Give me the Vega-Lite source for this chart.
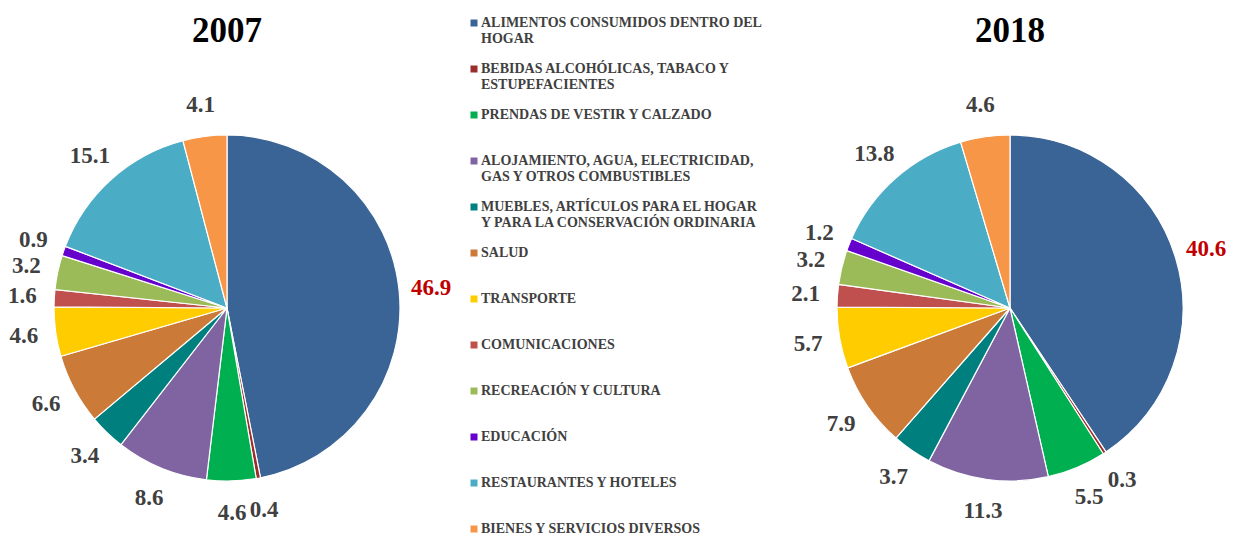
{
  "$schema": "https://vega.github.io/schema/vega-lite/v6.json",
  "padding": {"left": 2, "top": 14, "right": 0, "bottom": 0},
  "background": "white",
  "config": {"view": {"stroke": null}, "font": "Liberation Serif"},
  "data": {"values": [
    {"year": "2007", "cat": "ALIMENTOS CONSUMIDOS DENTRO DEL HOGAR", "value": 46.9, "orden": 1},
    {"year": "2007", "cat": "BEBIDAS ALCOHÓLICAS, TABACO Y ESTUPEFACIENTES", "value": 0.4, "orden": 2},
    {"year": "2007", "cat": "PRENDAS DE VESTIR Y CALZADO", "value": 4.6, "orden": 3},
    {"year": "2007", "cat": "ALOJAMIENTO, AGUA, ELECTRICIDAD, GAS Y OTROS COMBUSTIBLES", "value": 8.6, "orden": 4},
    {"year": "2007", "cat": "MUEBLES, ARTÍCULOS PARA EL HOGAR Y PARA LA CONSERVACIÓN ORDINARIA", "value": 3.4, "orden": 5},
    {"year": "2007", "cat": "SALUD", "value": 6.6, "orden": 6},
    {"year": "2007", "cat": "TRANSPORTE", "value": 4.6, "orden": 7},
    {"year": "2007", "cat": "COMUNICACIONES", "value": 1.6, "orden": 8},
    {"year": "2007", "cat": "RECREACIÓN Y CULTURA", "value": 3.2, "orden": 9},
    {"year": "2007", "cat": "EDUCACIÓN", "value": 0.9, "orden": 10},
    {"year": "2007", "cat": "RESTAURANTES Y HOTELES", "value": 15.1, "orden": 11},
    {"year": "2007", "cat": "BIENES Y SERVICIOS DIVERSOS", "value": 4.1, "orden": 12},
    {"year": "2018", "cat": "ALIMENTOS CONSUMIDOS DENTRO DEL HOGAR", "value": 40.6, "orden": 1},
    {"year": "2018", "cat": "BEBIDAS ALCOHÓLICAS, TABACO Y ESTUPEFACIENTES", "value": 0.3, "orden": 2},
    {"year": "2018", "cat": "PRENDAS DE VESTIR Y CALZADO", "value": 5.5, "orden": 3},
    {"year": "2018", "cat": "ALOJAMIENTO, AGUA, ELECTRICIDAD, GAS Y OTROS COMBUSTIBLES", "value": 11.3, "orden": 4},
    {"year": "2018", "cat": "MUEBLES, ARTÍCULOS PARA EL HOGAR Y PARA LA CONSERVACIÓN ORDINARIA", "value": 3.7, "orden": 5},
    {"year": "2018", "cat": "SALUD", "value": 7.9, "orden": 6},
    {"year": "2018", "cat": "TRANSPORTE", "value": 5.7, "orden": 7},
    {"year": "2018", "cat": "COMUNICACIONES", "value": 2.1, "orden": 8},
    {"year": "2018", "cat": "RECREACIÓN Y CULTURA", "value": 3.2, "orden": 9},
    {"year": "2018", "cat": "EDUCACIÓN", "value": 1.2, "orden": 10},
    {"year": "2018", "cat": "RESTAURANTES Y HOTELES", "value": 13.8, "orden": 11},
    {"year": "2018", "cat": "BIENES Y SERVICIOS DIVERSOS", "value": 4.6, "orden": 12}
  ]},
  "facet": {
    "column": {
      "field": "year", "type": "nominal", "title": null,
      "header": {"labelFont": "Liberation Serif", "labelFontSize": 35, "labelFontWeight": "bold", "labelColor": "black", "labelPadding": 34}
    }
  },
  "spacing": 333,
  "spec": {
    "width": 450,
    "height": 450,
    "encoding": {
      "theta": {"field": "value", "type": "quantitative", "stack": "normalize"},
      "order": {"field": "orden", "type": "quantitative", "sort": "ascending"}
    },
    "layer": [
      {
        "mark": {"type": "arc", "outerRadius": 173, "stroke": "white", "strokeWidth": 1.2},
        "encoding": {
          "color": {
            "field": "cat", "type": "nominal",
            "scale": {
              "domain": [
                "ALIMENTOS CONSUMIDOS DENTRO DEL HOGAR",
                "BEBIDAS ALCOHÓLICAS, TABACO Y ESTUPEFACIENTES",
                "PRENDAS DE VESTIR Y CALZADO",
                "ALOJAMIENTO, AGUA, ELECTRICIDAD, GAS Y OTROS COMBUSTIBLES",
                "MUEBLES, ARTÍCULOS PARA EL HOGAR Y PARA LA CONSERVACIÓN ORDINARIA",
                "SALUD",
                "TRANSPORTE",
                "COMUNICACIONES",
                "RECREACIÓN Y CULTURA",
                "EDUCACIÓN",
                "RESTAURANTES Y HOTELES",
                "BIENES Y SERVICIOS DIVERSOS"
              ],
              "range": ["#3A6496", "#9B2D2A", "#00B050", "#8064A2", "#007F7F", "#CC7A38", "#FFCC00", "#C0504D", "#9BBB59", "#6600CC", "#4BACC6", "#F79646"]
            },
            "legend": {
              "title": null,
              "orient": "none",
              "legendX": 465,
              "legendY": -67,
              "padding": 0,
              "symbolType": "square",
              "symbolSize": 49,
              "symbolStrokeWidth": 0,
              "labelFont": "Liberation Serif",
              "labelFontSize": 14,
              "labelFontWeight": "bold",
              "labelColor": "#404040",
              "labelLimit": 400,
              "labelOffset": 0,
              "rowPadding": 16,
              "labelExpr": "datum.label == 'ALIMENTOS CONSUMIDOS DENTRO DEL HOGAR' ? ['ALIMENTOS CONSUMIDOS DENTRO DEL', 'HOGAR'] : datum.label == 'BEBIDAS ALCOHÓLICAS, TABACO Y ESTUPEFACIENTES' ? ['BEBIDAS ALCOHÓLICAS, TABACO Y', 'ESTUPEFACIENTES'] : datum.label == 'ALOJAMIENTO, AGUA, ELECTRICIDAD, GAS Y OTROS COMBUSTIBLES' ? ['ALOJAMIENTO, AGUA, ELECTRICIDAD,', 'GAS Y OTROS COMBUSTIBLES'] : datum.label == 'MUEBLES, ARTÍCULOS PARA EL HOGAR Y PARA LA CONSERVACIÓN ORDINARIA' ? ['MUEBLES, ARTÍCULOS PARA EL HOGAR', 'Y PARA LA CONSERVACIÓN ORDINARIA'] : [datum.label, '']",
              "encode": {"labels": {"update": {"lineHeight": {"value": 16.5}}}}
            }
          }
        }
      },
      {
        "mark": {"type": "text", "radius": 205, "font": "Liberation Serif", "fontSize": 23, "fontWeight": "bold"},
        "encoding": {
          "detail": {"field": "cat", "type": "nominal"},
          "text": {"field": "value", "type": "quantitative", "format": ".1f"},
          "color": {
            "condition": {"test": "datum.cat == 'ALIMENTOS CONSUMIDOS DENTRO DEL HOGAR'", "value": "#C00000"},
            "value": "#404040"
          }
        }
      }
    ]
  }
}
